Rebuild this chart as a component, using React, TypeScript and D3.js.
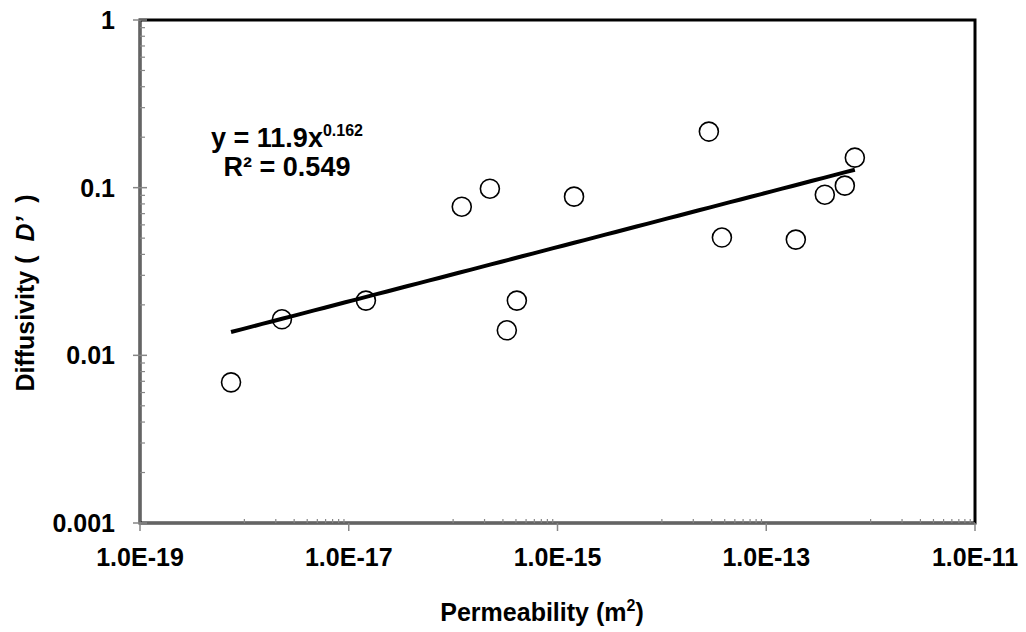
import React from "react";
import * as d3 from "d3";

const permeability = [7.45e-19, 2.29e-18, 1.46e-17, 1.21e-16, 2.25e-16, 3.27e-16, 4.08e-16, 1.44e-15, 2.82e-14, 3.76e-14, 1.92e-13, 3.64e-13, 5.66e-13, 7.06e-13];
const diffusivity = [0.0069, 0.0164, 0.0212, 0.077, 0.0986, 0.0141, 0.0212, 0.0884, 0.216, 0.0504, 0.049, 0.0908, 0.1028, 0.151];
const xTickValues = [1e-19, 1e-17, 1e-15, 1e-13, 1e-11];
const xTickLabels = ["1.0E-19", "1.0E-17", "1.0E-15", "1.0E-13", "1.0E-11"];
const yTickValues = [0.001, 0.01, 0.1, 1];
const yTickLabels = ["0.001", "0.01", "0.1", "1"];
const fitCoef = 11.9;
const fitExp = 0.162;
const rSquared = "0.549";

const W = 1026;
const H = 632;
const L = 140, R = 975, T = 20, B = 523;
const FONT = "'Liberation Sans', Arial, sans-serif";

export default function App() {
  const x = d3.scaleLog().domain([1e-19, 1e-11]).range([L, R]);
  const y = d3.scaleLog().domain([0.001, 1]).range([B, T]);

  const xMinor: number[] = [];
  for (let i = 0; i < xTickValues.length - 1; i++) {
    const base = xTickValues[i] * 10;
    for (let k = 1; k <= 9; k++) xMinor.push(base * k);
  }
  const yMinor: number[] = [];
  for (let i = 0; i < yTickValues.length - 1; i++) {
    for (let k = 2; k <= 9; k++) yMinor.push(yTickValues[i] * k);
  }

  const xMin = d3.min(permeability) as number;
  const xMax = d3.max(permeability) as number;
  const fitPts: [number, number][] = [];
  const n = 60;
  for (let i = 0; i <= n; i++) {
    const lx = Math.log10(xMin) + (Math.log10(xMax) - Math.log10(xMin)) * (i / n);
    const xv = Math.pow(10, lx);
    fitPts.push([xv, fitCoef * Math.pow(xv, fitExp)]);
  }
  const line = d3.line<[number, number]>().x((d) => x(d[0])).y((d) => y(d[1]));

  const gray = "#868686";

  return (
    <svg width={W} height={H} style={{ position: "absolute", left: 0, top: 0, background: "#fff" }} fontFamily={FONT}>
      <rect x={0} y={0} width={W} height={H} fill="#fff" />
      <rect x={L} y={T} width={R - L} height={B - T} fill="none" stroke="#000" strokeWidth={3} />
      <line x1={L} y1={T} x2={L} y2={B} stroke={gray} strokeWidth={1.5} />
      <line x1={L} y1={B} x2={R} y2={B} stroke={gray} strokeWidth={1.5} />
      {yTickValues.map((v) => (
        <line key={"ym" + v} x1={L - 7} x2={L + 7} y1={y(v)} y2={y(v)} stroke={gray} strokeWidth={1.5} />
      ))}
      {yMinor.map((v) => (
        <line key={"yn" + v} x1={L} x2={L + 5} y1={y(v)} y2={y(v)} stroke={gray} strokeWidth={1.2} />
      ))}
      {xTickValues.map((v) => (
        <line key={"xm" + v} x1={x(v)} x2={x(v)} y1={B} y2={B + 8} stroke={gray} strokeWidth={1.5} />
      ))}
      {xMinor.map((v) => (
        <line key={"xn" + v} x1={x(v)} x2={x(v)} y1={B} y2={B - 4} stroke={gray} strokeWidth={1.2} />
      ))}
      {yTickValues.map((v, i) => (
        <text key={"yl" + v} x={115} y={y(v) + 9} textAnchor="end" fontSize={25} fontWeight="bold" fill="#000">
          {yTickLabels[i]}
        </text>
      ))}
      {xTickValues.map((v, i) => (
        <text key={"xl" + v} x={x(v)} y={566} textAnchor="middle" fontSize={25} fontWeight="bold" fill="#000">
          {xTickLabels[i]}
        </text>
      ))}
      {permeability.map((p, i) => (
        <circle key={"pt" + i} cx={x(p)} cy={y(diffusivity[i])} r={9.5} fill="#fff" stroke="#000" strokeWidth={1.6} />
      ))}
      <path d={line(fitPts) || ""} fill="none" stroke="#000" strokeWidth={4} />
      <text x={287} y={147} textAnchor="middle" fontSize={27} fontWeight="bold" fill="#000">
        y = {fitCoef}x<tspan fontSize={16} dy={-11}>{fitExp}</tspan>
      </text>
      <text x={287} y={176} textAnchor="middle" fontSize={27} fontWeight="bold" fill="#000">
        R² = {rSquared}
      </text>
      <text x={542} y={621} textAnchor="middle" fontSize={25} fontWeight="bold" fill="#000">
        Permeability (m<tspan fontSize={16} dy={-10}>2</tspan><tspan dy={10}>)</tspan>
      </text>
      <text transform="translate(34,293) rotate(-90)" textAnchor="middle" fontSize={25} fontWeight="bold" fill="#000" xmlSpace="preserve">
        Diffusivity (  <tspan fontStyle="italic">D’</tspan>  )
      </text>
    </svg>
  );
}
